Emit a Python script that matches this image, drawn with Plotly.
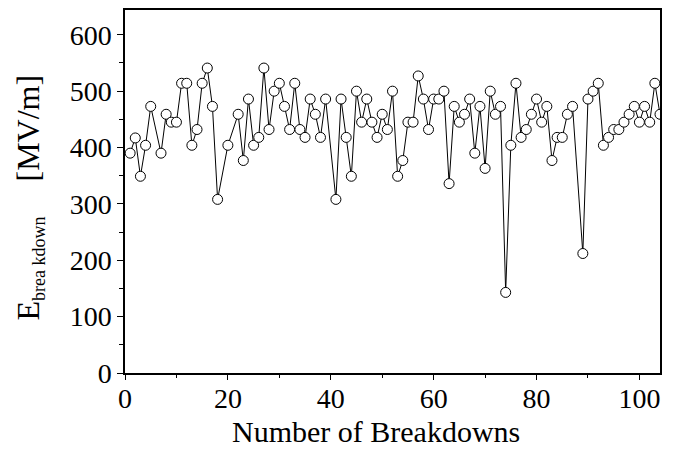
import plotly.graph_objects as go

breakdown_number = [1, 2, 3, 4, 5, 7, 8, 9, 10, 11, 12, 13, 14, 15, 16, 17, 18, 20, 22, 23,
                    24, 25, 26, 27, 28, 29, 30, 31, 32, 33, 34, 35, 36, 37, 38, 39, 41, 42, 43, 44,
                    45, 46, 47, 48, 49, 50, 51, 52, 53, 54, 55, 56, 57, 58, 59, 60, 61, 62, 63, 64,
                    65, 66, 67, 68, 69, 70, 71, 72, 73, 74, 75, 76, 77, 78, 79, 80, 81, 82, 83, 84,
                    85, 86, 87, 89, 90, 91, 92, 93, 94, 95, 96, 97, 98, 99, 100, 101, 102, 103, 104]
e_breakdown = [390, 417, 349, 404, 473, 390, 459, 445, 445, 514, 514, 404, 432, 514, 541, 473, 308, 404, 459, 377,
               486, 404, 418, 541, 432, 500, 514, 473, 432, 514, 432, 418, 486, 459, 418, 486, 308, 486, 418, 349,
               500, 445, 486, 445, 418, 459, 432, 500, 349, 377, 445, 445, 527, 486, 432, 486, 486, 500, 336, 473,
               445, 459, 486, 390, 473, 363, 500, 459, 473, 143, 404, 514, 418, 432, 459, 486, 445, 473, 377, 418,
               418, 459, 473, 212, 486, 500, 514, 404, 418, 432, 432, 445, 459, 473, 445, 473, 445, 514, 459]

x_ticks = [0, 20, 40, 60, 80, 100]
y_ticks = [0, 100, 200, 300, 400, 500, 600]

fig = go.Figure()
fig.add_trace(go.Scatter(
    x=breakdown_number, y=e_breakdown, mode="lines+markers",
    line=dict(color="black", width=1),
    marker=dict(symbol="circle", size=10, color="white", line=dict(color="black", width=1)),
    showlegend=False,
))
# invisible trace carrying the tick-only overlay axis
fig.add_trace(go.Scatter(
    x=breakdown_number, y=e_breakdown, xaxis="x2", mode="markers",
    marker=dict(opacity=0), hoverinfo="skip", showlegend=False,
))

font = "Liberation Serif, Times New Roman, serif"
fig.update_layout(
    width=675, height=455,
    margin=dict(l=125, r=15, t=8, b=82),
    paper_bgcolor="white", plot_bgcolor="white",
    font=dict(family=font, color="black", size=28),
    xaxis=dict(
        range=[0, 104], tickvals=x_ticks, ticks="", ticklen=0,
        showline=True, linecolor="black", linewidth=1.5, mirror=True,
        showgrid=False, zeroline=False, tickfont=dict(size=28),
    ),
    xaxis2=dict(
        overlaying="x", anchor="y", side="bottom", range=[0, 104],
        tickvals=x_ticks, ticks="outside", ticklen=6, tickwidth=1, tickcolor="black",
        minor=dict(dtick=10, ticks="outside", ticklen=4, tickwidth=1, tickcolor="black", showgrid=False),
        showticklabels=False, showline=False, showgrid=False, zeroline=False,
    ),
    yaxis=dict(
        range=[0, 644], tickvals=y_ticks, ticks="outside", ticklen=6, tickwidth=1, tickcolor="black",
        minor=dict(dtick=50, ticks="outside", ticklen=4, tickwidth=1, tickcolor="black", showgrid=False),
        showline=True, linecolor="black", linewidth=1.5, mirror=True,
        showgrid=False, zeroline=False, tickfont=dict(size=28),
    ),
)
fig.add_annotation(
    xref="paper", yref="paper", x=0.469, y=-0.162, xanchor="center", yanchor="middle",
    showarrow=False, text="Number of Breakdowns", font=dict(size=30),
)
fig.add_annotation(
    xref="paper", yref="paper", x=-0.179, y=0.484, xanchor="center", yanchor="middle",
    textangle=-90, showarrow=False,
    text=("<span style='font-size:32px'>E</span>"
          "<sub><span style='font-size:18px'>brea kdown</span></sub>"
          "&nbsp;&nbsp;&nbsp;&nbsp;&nbsp;<span style='font-size:32px'>[MV/m]</span>"),
)

fig.write_html("out.html", config={"displayModeBar": False},
               post_script="document.body.style.margin='0';")
